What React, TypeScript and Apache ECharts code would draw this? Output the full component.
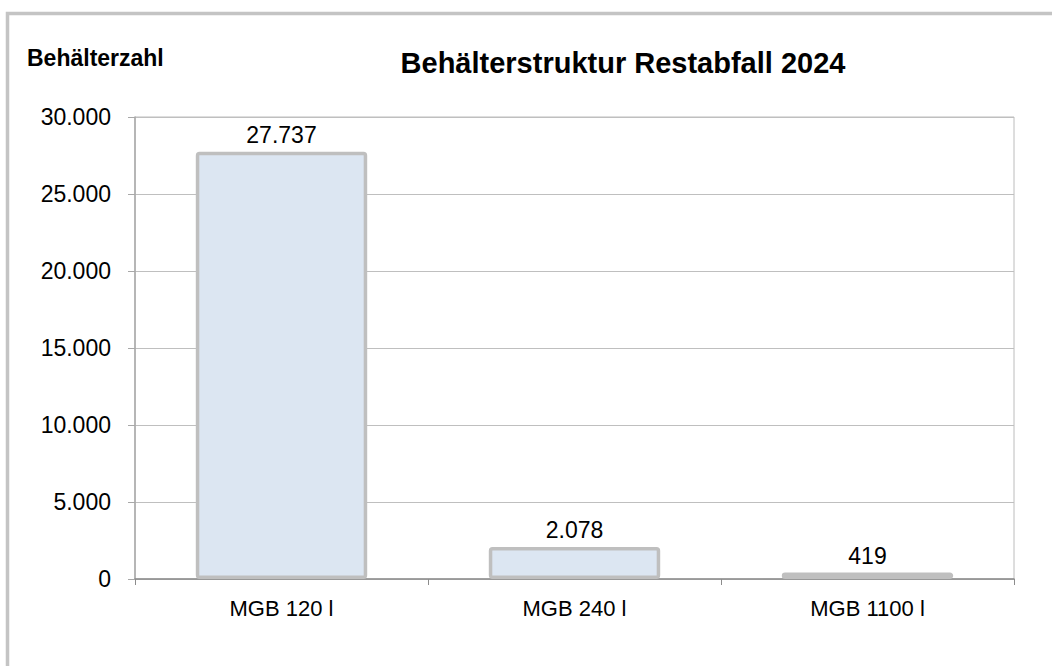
import React, { useEffect, useRef } from "react";
import * as echarts from "echarts";

const categories = ["MGB 120 l", "MGB 240 l", "MGB 1100 l"];
const values = [27737, 2078, 419];
const yTicks = [0, 5000, 10000, 15000, 20000, 25000, 30000];
const chartTitle = "Behälterstruktur Restabfall 2024";
const yAxisTitle = "Behälterzahl";

const fmt = (v: number) => String(Math.round(v)).replace(/\B(?=(\d{3})+(?!\d))/g, ".");

export default function App() {
  const ref = useRef<HTMLDivElement>(null);
  useEffect(() => {
    if (!ref.current) return;
    const chart = echarts.init(ref.current, undefined, { renderer: "svg" });
    const font = "'Liberation Sans', Arial, sans-serif";
    chart.setOption({
      animation: false,
      backgroundColor: "#ffffff",
      textStyle: { fontFamily: font },
      title: {
        text: chartTitle,
        left: 618,
        top: 43,
        textAlign: "center",
        textStyle: { fontSize: 29, fontWeight: "bold", color: "#000", fontFamily: font },
      },
      graphic: [
        {
          type: "rect",
          shape: { x: 7.5, y: 13.5, width: 1100, height: 700 },
          style: { fill: "none", stroke: "#c4c4c4", lineWidth: 3.5 },
          silent: true,
        },
        {
          type: "text",
          x: 27,
          y: 58,
          style: {
            text: yAxisTitle,
            font: `bold 23px ${font}`,
            fill: "#000",
            textVerticalAlign: "middle",
          },
        },
      ],
      grid: {
        left: 135,
        top: 117,
        width: 879,
        height: 462,
        show: true,
        borderColor: "#bcbcbc",
        borderWidth: 1,
        backgroundColor: "transparent",
      },
      xAxis: {
        type: "category",
        data: categories,
        axisLine: { show: true, lineStyle: { color: "#8c8c8c", width: 1.5 } },
        axisTick: { show: true, length: 6, lineStyle: { color: "#8c8c8c" } },
        axisLabel: { fontSize: 22, color: "#000", margin: 18, fontFamily: font },
      },
      yAxis: {
        type: "value",
        min: 0,
        max: 30000,
        interval: 5000,
        axisLine: { show: true, lineStyle: { color: "#a8a8a8", width: 1.5 } },
        axisTick: { show: true, length: 7, lineStyle: { color: "#a8a8a8" } },
        splitLine: { show: true, lineStyle: { color: "#bfbfbf", width: 1 } },
        axisLabel: {
          fontSize: 23,
          color: "#000",
          margin: 24,
          fontFamily: font,
          formatter: (v: number) => (yTicks.includes(v) ? fmt(v) : ""),
        },
      },
      series: [
        {
          type: "bar",
          data: values,
          barWidth: "58.5%",
          itemStyle: {
            color: "#dce6f2",
            borderColor: "#bfbfbf",
            borderWidth: 3.5,
            borderRadius: 2,
          },
          label: {
            show: true,
            position: "top",
            distance: 5,
            fontSize: 23,
            color: "#000",
            fontFamily: font,
            formatter: (p: any) => fmt(p.value),
          },
        },
      ],
    });
    return () => chart.dispose();
  }, []);
  return (
    <div
      ref={ref}
      style={{ position: "fixed", left: 0, top: 0, width: 1052, height: 666, background: "#fff" }}
    />
  );
}
